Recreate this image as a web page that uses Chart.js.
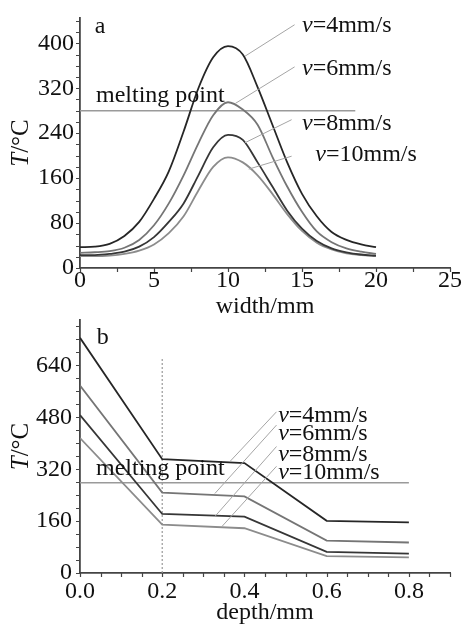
<!DOCTYPE html>
<html><head><meta charset="utf-8">
<script src="https://cdn.jsdelivr.net/npm/chart.js@4.4.0/dist/chart.umd.min.js"></script>
<style>
html,body{margin:0;padding:0;background:#fff;width:465px;height:627px;overflow:hidden;}
#wa{position:absolute;left:0;top:0;width:465px;height:325px;}
#wb{position:absolute;left:0;top:300px;width:465px;height:327px;}
</style></head><body>
<div id="wa"><canvas id="ca"></canvas></div>
<div id="wb"><canvas id="cb"></canvas></div>
<script>
// ---- data: panel a (temperature across width) ----
const widthMm = [0,1,2,3,4,5,6,7,8,9,10,11,12,13,14,15,16,17,18,19,20];
const tA_v4  = [37,38,43,57,82,123,172,243,320,375,395,380,322,255,188,132,92,64,50,42,37];
const tA_v6  = [27,28,30,36,50,76,115,165,222,272,295,282,255,198,145,100,65,46,35,29,25];
const tA_v8  = [23,23,25,29,38,55,82,115,165,215,237,228,188,145,102,70,48,35,28,24,22];
const tA_v10 = [21,21,22,25,31,42,62,92,138,180,197,188,165,132,96,66,45,33,26,23,21];
const meltA = 280;
const meltA_x = [0, 18.6];
const ticksA_x = [0,5,10,15,20,25];
const ticksA_y = [0,80,160,240,320,400];

// ---- data: panel b (temperature along depth) ----
const depthMm = [0,0.2,0.4,0.6,0.8];
const tB_v4  = [725,351,339,161,156];
const tB_v6  = [578,248,236,100,94];
const tB_v8  = [487,182,174,65,60];
const tB_v10 = [416,149,138,52,48];
const meltB = 278;
const meltB_x = [0, 0.8];
const dotB_x = 0.2, dotB_top = 665;
const ticksB_x = [0,0.2,0.4,0.6,0.8];
const ticksB_y = [0,160,320,480,640];

const speeds = ['4','6','8','10'];

const FONT = 'Liberation Serif';
const FS = 24;
const TXT = '#111';
const AX = '#444';

function pts(xs, ys){ return xs.map((x,i)=>({x:x, y:ys[i]})); }

function drawV(ctx, x, y, sp){
  ctx.font = 'italic ' + FS + 'px "' + FONT + '"';
  ctx.fillText('v', x, y);
  const w = ctx.measureText('v').width;
  ctx.font = FS + 'px "' + FONT + '"';
  ctx.fillText('=' + sp + 'mm/s', x + w, y);
}

function makePlugin(cfg){
  return {
    id: 'deco',
    afterDraw(chart){
      const ctx = chart.ctx, xs = chart.scales.x, ys = chart.scales.y;
      const X = v => xs.getPixelForValue(v), Y = v => ys.getPixelForValue(v);
      ctx.save();
      ctx.strokeStyle = AX; ctx.lineWidth = 1.2;
      ctx.beginPath();
      for (let i = 0; i * cfg.xStep <= cfg.xMax + 1e-9; i++){
        const px = Math.round(X(i * cfg.xStep)) + 0.5;
        ctx.moveTo(px, ys.bottom); ctx.lineTo(px, ys.bottom + 4);
      }
      for (let i = 0; i * cfg.yStep <= cfg.yMax + 1e-9; i++){
        const py = Math.round(Y(i * cfg.yStep)) + 0.5;
        ctx.moveTo(xs.left - 4, py); ctx.lineTo(xs.left, py);
      }
      ctx.stroke();
      ctx.strokeStyle = '#a5a5a5'; ctx.lineWidth = 1;
      ctx.beginPath();
      cfg.links.forEach(l => { ctx.moveTo(X(l[0]), Y(l[1])); ctx.lineTo(X(l[2]), Y(l[3])); });
      ctx.stroke();
      ctx.fillStyle = TXT; ctx.textBaseline = 'alphabetic'; ctx.textAlign = 'left';
      cfg.vlabels.forEach((p, i) => drawV(ctx, X(p[0]), Y(p[1]), speeds[i]));
      ctx.font = FS + 'px "' + FONT + '"';
      ctx.fillText('melting point', X(cfg.melt[0]), Y(cfg.melt[1]));
      ctx.fillText(cfg.letter[2], X(cfg.letter[0]), Y(cfg.letter[1]));
      const cy = (ys.top + ys.bottom) / 2;
      ctx.translate(21, cy);
      ctx.rotate(-Math.PI / 2);
      ctx.textBaseline = 'middle';
      ctx.font = 'italic 25px "' + FONT + '"';
      const wT = ctx.measureText('T').width;
      ctx.font = '25px "' + FONT + '"';
      const wR = ctx.measureText('/°C').width;
      const x0 = -(wT + wR) / 2;
      ctx.font = 'italic 25px "' + FONT + '"';
      ctx.fillText('T', x0, 0);
      ctx.font = '25px "' + FONT + '"';
      ctx.fillText('/°C', x0 + wT, 0);
      ctx.restore();
    }
  };
}

function makeChart(id, o){
  const line = (data, color) => ({data, borderColor: color, borderWidth: 1.8, pointRadius: 0,
    fill: false, cubicInterpolationMode: o.smooth ? 'monotone' : 'default', tension: 0});
  const datasets = [
    line(pts(o.xs, o.s[0]), '#262626'),
    line(pts(o.xs, o.s[1]), '#757575'),
    line(pts(o.xs, o.s[2]), '#363636'),
    line(pts(o.xs, o.s[3]), '#8c8c8c'),
    {data: pts(o.meltX, o.meltX.map(()=>o.melt)), borderColor: '#9a9a9a', borderWidth: 1.5, pointRadius: 0}
  ];
  if (o.dot) datasets.push({data: [{x:o.dot[0], y:0},{x:o.dot[0], y:o.dot[1]}], borderColor:'#999', borderWidth:1.2, borderDash:[2,2], pointRadius:0});
  return new Chart(document.getElementById(id), {
    type: 'line',
    data: {datasets},
    plugins: [makePlugin(o.deco)],
    options: {
      responsive: true, maintainAspectRatio: false, animation: false,
      layout: {padding: {left: 0, right: 15, top: o.top, bottom: o.bottom}},
      plugins: {legend: {display: false}, tooltip: {enabled: false}},
      scales: {
        x: {type: 'linear', min: 0, max: o.xMax,
          afterBuildTicks: s => { s.ticks = o.xt.map(v => ({value: v})); },
          afterFit: s => { s.height = o.xH; },
          grid: {display: false, drawTicks: false},
          border: {display: true, color: AX, width: 1.8},
          ticks: {color: TXT, font: {family: FONT, size: FS, lineHeight: 1}, padding: o.xPad,
            maxRotation: 0, autoSkip: false, callback: o.xfmt},
          title: {display: true, text: o.xTitle, color: TXT, font: {family: FONT, size: FS, lineHeight: 1.2}, padding: 0}
        },
        y: {min: 0, max: o.yMax,
          afterBuildTicks: s => { s.ticks = o.yt.map(v => ({value: v})); },
          afterFit: s => { s.width = 80; },
          grid: {display: false, drawTicks: false},
          border: {display: true, color: AX, width: 1.8},
          ticks: {color: TXT, font: {family: FONT, size: FS, lineHeight: 1}, padding: o.yPad}
        }
      }
    }
  });
}

makeChart('ca', {
  xs: widthMm, s: [tA_v4, tA_v6, tA_v8, tA_v10], smooth: true,
  melt: meltA, meltX: meltA_x, xMax: 25, yMax: 445, xt: ticksA_x, yt: ticksA_y,
  xfmt: v => String(v), xTitle: 'width/mm', top: 13, bottom: 4, xH: 53, xPad: 1, yPad: 6,
  deco: {xStep: 2.5, xMax: 25, yStep: 20, yMax: 440,
    links: [[14.5,433,11.15,377],[14.5,358,10.5,293],[14.3,264,11.15,223],[14.3,199,11.4,176]],
    vlabels: [[15.0,420],[15.0,343],[15.0,245],[15.9,190]],
    melt: [1.08, 296], letter: [1.0, 418, 'a']}
});

makeChart('cb', {
  xs: depthMm, s: [tB_v4, tB_v6, tB_v8, tB_v10], smooth: false,
  melt: meltB, meltX: meltB_x, dot: [dotB_x, dotB_top], xMax: 0.9, yMax: 780, xt: ticksB_x, yt: ticksB_y,
  xfmt: v => v.toFixed(1), xTitle: 'depth/mm', top: 17, bottom: 0, xH: 54, xPad: 7, yPad: 8,
  deco: {xStep: 0.05, xMax: 0.9, yStep: 40, yMax: 760,
    links: [[0.478,497,0.365,344],[0.478,456,0.328,245],[0.478,390,0.328,174],[0.478,329,0.345,143]],
    vlabels: [[0.482,464],[0.482,411],[0.482,346],[0.482,289]],
    melt: [0.039, 302], letter: [0.041, 705, 'b']}
});
</script>
</body></html>
